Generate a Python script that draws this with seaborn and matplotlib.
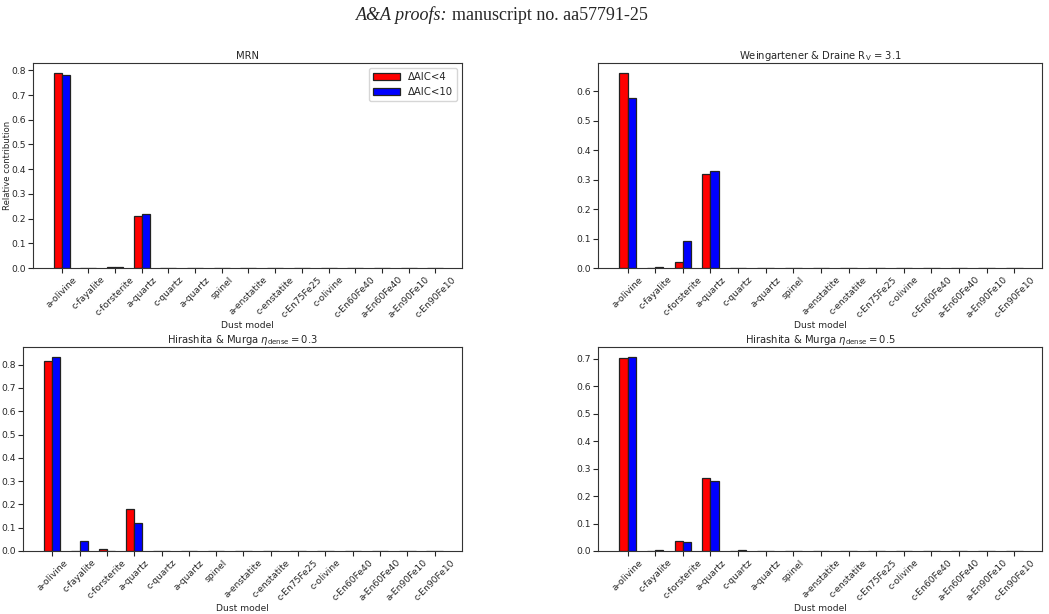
import seaborn as sns
import pandas as pd
import matplotlib.pyplot as plt

# dust species on the x axis
species = ['a-olivine', 'c-fayalite', 'c-forsterite', 'a-quartz', 'c-quartz', 'a-quartz', 'spinel',
           'a-enstatite', 'c-enstatite', 'c-En75Fe25', 'c-olivine', 'c-En60Fe40', 'a-En60Fe40',
           'a-En90Fe10', 'c-En90Fe10']
thresholds = ['ΔAIC<4', 'ΔAIC<10']

# relative contributions, red = dAIC<4, blue = dAIC<10
mrn_aic4 = [0.790, 0.001, 0.005, 0.209, 0, 0, 0, 0, 0, 0, 0, 0, 0, 0, 0]
mrn_aic10 = [0.782, 0.001, 0.004, 0.217, 0, 0, 0, 0, 0, 0, 0, 0, 0, 0, 0]
wd_aic4 = [0.663, 0.0, 0.019, 0.320, 0, 0, 0, 0, 0, 0, 0, 0, 0, 0, 0]
wd_aic10 = [0.577, 0.003, 0.091, 0.330, 0, 0, 0, 0, 0, 0, 0, 0, 0, 0, 0]
hm03_aic4 = [0.814, 0.0, 0.007, 0.179, 0.0, 0, 0, 0, 0, 0, 0, 0, 0, 0, 0]
hm03_aic10 = [0.834, 0.041, 0.001, 0.122, 0.002, 0, 0, 0, 0, 0, 0, 0, 0, 0, 0]
hm05_aic4 = [0.701, 0.0, 0.035, 0.265, 0.0, 0, 0, 0, 0, 0, 0, 0, 0, 0, 0]
hm05_aic10 = [0.707, 0.002, 0.034, 0.254, 0.002, 0, 0, 0, 0, 0, 0, 0, 0, 0, 0]

panels = [
    ('MRN', mrn_aic4, mrn_aic10, [33, 268, 429, 205]),
    (r'Weingartener & Draine R$_\mathrm{V}$ = 3.1', wd_aic4, wd_aic10, [598, 268, 444, 205]),
    (r'Hirashita & Murga $\eta_\mathrm{dense} = 0.3$', hm03_aic4, hm03_aic10, [23, 551, 439, 204]),
    (r'Hirashita & Murga $\eta_\mathrm{dense} = 0.5$', hm05_aic4, hm05_aic10, [598, 551, 444, 204]),
]

sns.set_style('ticks', {'xtick.major.size': 1.5, 'ytick.major.size': 1.5})
plt.rcParams['font.family'] = ['DejaVu Sans']
plt.rcParams['mathtext.fontset'] = 'dejavusans'
plt.rcParams['xtick.major.pad'] = 1.5
plt.rcParams['ytick.major.pad'] = 1.5

W, H = 1049, 614
fig = plt.figure(figsize=(W / 100, H / 100), dpi=100)

for i, (title, v4, v10, box) in enumerate(panels):
    left, bottom, width, height = box
    ax = fig.add_axes([left / W, 1 - bottom / H, width / W, height / H])

    df = pd.DataFrame({
        'x': list(range(len(species))) * 2,
        'value': v4 + v10,
        'fit': [thresholds[0]] * len(species) + [thresholds[1]] * len(species),
    })
    sns.barplot(data=df, x='x', y='value', hue='fit', palette=['red', 'blue'], saturation=1,
                width=0.6, edgecolor='#222222', linewidth=0.9, ax=ax, legend=(i == 0), gap=0)

    ax.set_xticks(range(len(species)))
    ax.set_xticklabels(species, rotation=45, fontsize=6.6)
    ax.tick_params(axis='y', labelsize=6.6)
    ax.set_xlim(-1.07, 15.0)
    ax.set_xlabel('Dust model', fontsize=6.6, labelpad=1)
    ax.set_ylabel('Relative contribution' if i == 0 else '', fontsize=6.1)
    ax.yaxis.set_label_coords(-0.049, 0.5)
    ax.set_title(title, fontsize=7.2, pad=3)
    for sp in ax.spines.values():
        sp.set_visible(True)
        sp.set_color('#333333')
    if i == 0:
        leg = ax.legend(loc='upper right', fontsize=7.3, frameon=True, handlelength=2.6)
        leg.set_title(None)

fig.text(447 / W, 1 - 15 / H, 'A&A proofs:', ha='right', va='center', fontsize=13,
         family='Liberation Serif', style='italic')
fig.text(452 / W, 1 - 15 / H, 'manuscript no. aa57791-25', ha='left', va='center', fontsize=13,
         family='Liberation Serif')

plt.savefig('out.png', dpi=100)
